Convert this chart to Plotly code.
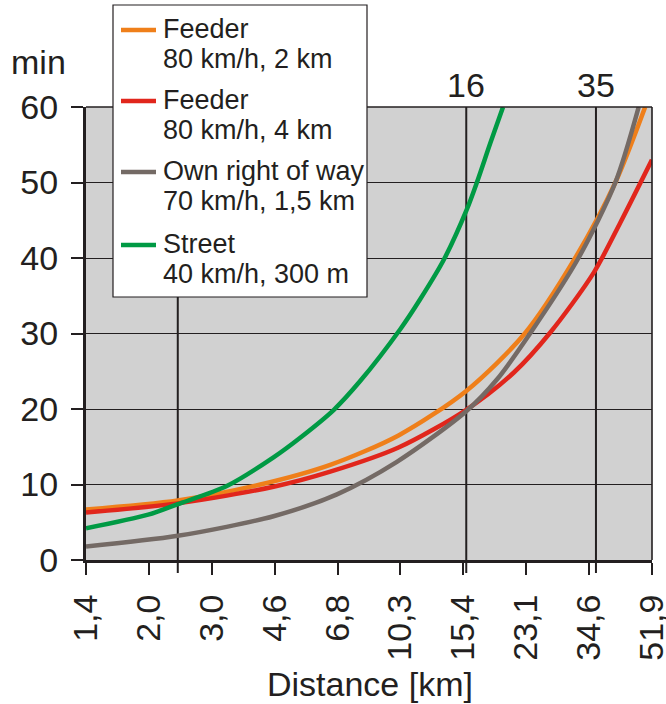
import math
import plotly.graph_objects as go

# ---------------- data ----------------
tick_km = [1.4, 2.1, 3.15, 4.725, 7.0875, 10.63, 15.95, 23.92, 35.88, 53.8]
tick_labels = ["1,4", "2,0", "3,0", "4,6", "6,8", "10,3", "15,4", "23,1", "34,6", "51,9"]
y_ticks = [0, 10, 20, 30, 40, 50, 60]

ref_km = [2.53, 16.25, 37.5]
ref_labels = ["", "16", "35"]

names = ["Feeder", "Feeder", "Own right of way", "Street"]
subtitles = ["80 km/h, 2 km", "80 km/h, 4 km", "70 km/h, 1,5 km", "40 km/h, 300 m"]
colors = ["#ef7f1a", "#e1261c", "#746a65", "#009a44"]

feeder2_km = [1.4, 2.53, 4.31, 6.76, 10.5, 16.25, 23.7, 32.8, 42.5, 51.5]
feeder2_min = [6.7, 7.9, 10.0, 12.6, 16.5, 22.4, 30.0, 40.0, 50.0, 60.0]

feeder4_km = [1.4, 2.53, 4.69, 6.76, 10.5, 16.25, 22.05, 27.9, 36.9, 43.9, 53.8]
feeder4_min = [6.3, 7.5, 9.7, 11.7, 14.9, 19.9, 24.8, 30.1, 38.0, 44.7, 53.0]

own_km = [1.4, 2.53, 4.69, 7.06, 10.39, 16.25, 19.8, 24.6, 33.5, 42.5, 49.4]
own_min = [1.8, 3.2, 5.8, 8.7, 13.0, 19.7, 23.9, 30.1, 40.0, 50.0, 60.0]

street_km = [1.4, 2.09, 2.53, 3.47, 4.69, 5.57, 6.92, 8.2, 10.63, 12.06, 14.07, 16.3, 17.4, 19.0, 20.6]
street_min = [4.2, 6.0, 7.4, 9.8, 13.6, 16.2, 19.9, 23.7, 30.6, 34.5, 39.8, 46.4, 50.0, 55.3, 60.0]

series_km = [feeder2_km, feeder4_km, own_km, street_km]
series_min = [feeder2_min, feeder4_min, own_min, street_min]

# ---------------- layout constants ----------------
W, H = 666, 704
ML, MR, MT, MB = 86, 14, 107, 144
PW, PH = W - ML - MR, H - MT - MB
INK = "#231f20"
FONT = "Liberation Sans, Arial, sans-serif"


def px(xp):
    return (xp - ML) / PW


def py(yp):
    return (H - MB - yp) / PH


fig = go.Figure()
for km, mins, col, nm in zip(series_km, series_min, colors, names):
    fig.add_trace(go.Scatter(x=km, y=mins, mode="lines", name=nm,
                             line=dict(color=col, width=4.5, shape="spline", smoothing=0.8),
                             showlegend=False, hoverinfo="skip"))

shapes = []
annotations = []
# vertical reference lines
for v, lab in zip(ref_km, ref_labels):
    shapes.append(dict(type="line", xref="x", yref="paper", x0=v, x1=v,
                       y0=-13 / PH, y1=1, line=dict(color=INK, width=2), layer="below"))
    if lab:
        annotations.append(dict(x=math.log10(v), xref="x", y=py(85), yref="paper",
                                text=lab, showarrow=False, xanchor="center", yanchor="middle",
                                font=dict(size=34, color=INK, family=FONT)))
# right border
shapes.append(dict(type="line", xref="paper", yref="paper", x0=1, x1=1, y0=0, y1=1,
                   line=dict(color=INK, width=1.6)))
# top border
shapes.append(dict(type="line", xref="paper", yref="paper", x0=0, x1=1, y0=1, y1=1,
                   line=dict(color=INK, width=1.6)))

# legend box
shapes.append(dict(type="rect", xref="paper", yref="paper",
                   x0=px(113), x1=px(367), y0=py(297), y1=py(5),
                   fillcolor="white", line=dict(color=INK, width=1.2), layer="above"))
entry_y = [29, 100, 171, 244]
for i, (nm, sub, col) in enumerate(zip(names, subtitles, colors)):
    y0 = entry_y[i]
    shapes.append(dict(type="line", xref="paper", yref="paper",
                       x0=px(121), x1=px(156), y0=py(y0 + 1), y1=py(y0 + 1),
                       line=dict(color=col, width=4.5), layer="above"))
    annotations.append(dict(x=px(161), y=py(y0), xref="paper", yref="paper", text=nm,
                            showarrow=False, xanchor="left", yanchor="middle",
                            font=dict(size=27, color=INK, family=FONT)))
    annotations.append(dict(x=px(161), y=py(y0 + 30), xref="paper", yref="paper", text=sub,
                            showarrow=False, xanchor="left", yanchor="middle",
                            font=dict(size=27, color=INK, family=FONT)))

# axis titles
annotations.append(dict(x=px(370), y=py(684), xref="paper", yref="paper", text="Distance [km]",
                        showarrow=False, xanchor="center", yanchor="middle",
                        font=dict(size=34, color=INK, family=FONT)))
annotations.append(dict(x=px(38), y=py(62), xref="paper", yref="paper", text="min",
                        showarrow=False, xanchor="center", yanchor="middle",
                        font=dict(size=34, color=INK, family=FONT)))

fig.update_layout(
    width=W, height=H,
    margin=dict(l=ML, r=MR, t=MT, b=MB, pad=0, autoexpand=False),
    paper_bgcolor="white", plot_bgcolor="#d1d1d1",
    font=dict(family=FONT, color=INK),
    shapes=shapes, annotations=annotations,
    showlegend=False,
)
fig.update_xaxes(type="log", range=[math.log10(1.4), math.log10(53.82)], automargin=False,
                 tickmode="array", tickvals=tick_km, ticktext=tick_labels, tickangle=-90,
                 ticks="outside", ticklen=12, tickwidth=1.5, tickcolor=INK,
                 ticklabeloverflow="allow",
                 showgrid=False, zeroline=False, showline=True, linewidth=3, linecolor=INK,
                 tickfont=dict(size=34, color=INK, family=FONT), ticklabelstandoff=6)
fig.update_yaxes(range=[0, 60], tickmode="array", tickvals=y_ticks, automargin=False,
                 ticks="outside", ticklen=12, tickwidth=1.5, tickcolor=INK,
                 ticklabeloverflow="allow",
                 showgrid=True, gridcolor=INK, gridwidth=1.4, zeroline=False,
                 showline=True, linewidth=3, linecolor=INK,
                 tickfont=dict(size=34, color=INK, family=FONT), ticklabelstandoff=6)

fig.write_html("out.html", config={"displayModeBar": False},
               post_script="document.body.style.margin='0';document.body.style.overflow='hidden';")
